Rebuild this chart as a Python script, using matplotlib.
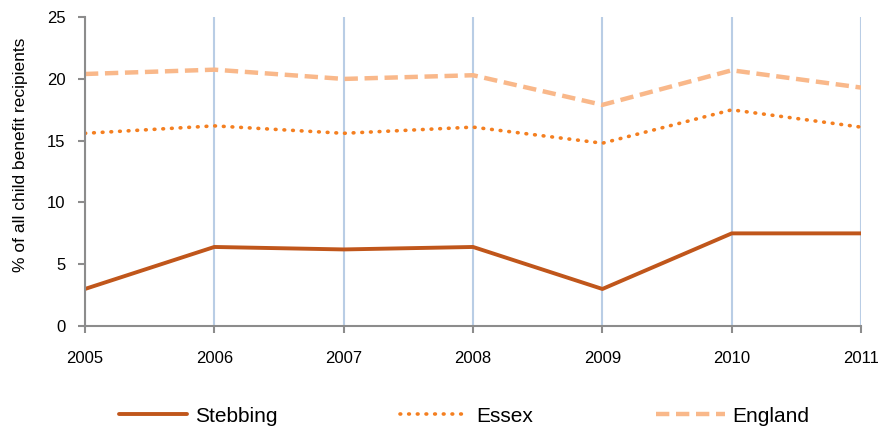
import matplotlib
matplotlib.use("Agg")
import matplotlib.pyplot as plt

plt.rcParams['font.family'] = ['Liberation Sans', 'DejaVu Sans']

years = [2005, 2006, 2007, 2008, 2009, 2010, 2011]
stebbing = [3.0, 6.4, 6.2, 6.4, 3.0, 7.5, 7.5]
essex = [15.6, 16.2, 15.6, 16.1, 14.8, 17.5, 16.1]
england = [20.4, 20.75, 20.0, 20.3, 17.9, 20.7, 19.3]

fig = plt.figure(figsize=(8.85, 4.29), dpi=100)
ax = fig.add_axes([0.096, 0.240, 0.877, 0.720])

ax.plot(years, stebbing, color='#c0561b', lw=2.8, label='Stebbing', solid_capstyle='round')
ax.plot(years, essex, color='#f47f20', lw=2.6, linestyle=(0, (0.2, 2.2)),
        dash_capstyle='round', label='Essex')
ax.plot(years, england, color='#f9b88a', lw=3.2, linestyle=(0, (3.0, 1.5)), label='England')

ax.set_xlim(2005, 2011)
ax.set_ylim(0, 25)
ax.set_xticks(years)
ax.set_yticks(range(0, 26, 5))
ax.xaxis.grid(True, color='#b9cde5', lw=1.5)
ax.set_axisbelow(True)
for s in ['top', 'right']:
    ax.spines[s].set_visible(False)
for s in ['left', 'bottom']:
    ax.spines[s].set_color('#8c8c8c')
    ax.spines[s].set_linewidth(1.5)
ax.tick_params(axis='both', colors='#8c8c8c', length=5, width=1.5, labelsize=12,
               labelcolor='black')
ax.tick_params(axis='x', pad=13)
ax.tick_params(axis='y', pad=9)
ax.set_ylabel('% of all child benefit recipients', fontsize=12.5)
ax.yaxis.set_label_coords(-0.074, 0.553)

fig.legend(loc='center', bbox_to_anchor=(0.524, 0.03), ncol=3, frameon=False,
           fontsize=15, handlelength=3.3, columnspacing=5.9, handletextpad=0.35)

fig.savefig('out.png', dpi=100)
